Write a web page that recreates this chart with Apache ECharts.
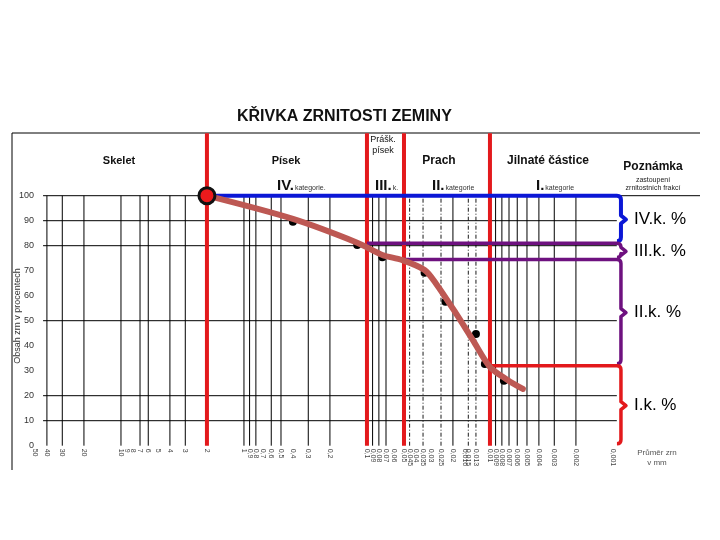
<!DOCTYPE html>
<html><head><meta charset="utf-8">
<script src="https://cdn.jsdelivr.net/npm/echarts@6/dist/echarts.min.js"></script>
<style>html,body{margin:0;padding:0;background:#fff}#c{width:720px;height:540px}</style>
</head><body><div id="c"></div>
<script>
// ---- data ----
const hGridValues = [100, 90, 80, 50, 20, 10];
const vGridSolid = [40, 30, 20, 10, 7, 6, 4, 3, 1, 0.9, 0.8, 0.6, 0.5, 0.3, 0.2, 0.09, 0.08, 0.07, 0.02, 0.009, 0.008, 0.007, 0.006, 0.005, 0.004, 0.003, 0.002];
const vGridDashed = [0.045, 0.035, 0.025, 0.015, 0.013];
const categoryBounds = [2, 0.1, 0.05, 0.01];
const xTickValues = [50, 40, 30, 20, 10, 9, 8, 7, 6, 5, 4, 3, 2, 1, 0.9, 0.8, 0.7, 0.6, 0.5, 0.4, 0.3, 0.2, 0.1, 0.09, 0.08, 0.07, 0.06, 0.05, 0.045, 0.04, 0.035, 0.03, 0.025, 0.02, 0.016, 0.015, 0.013, 0.01, 0.009, 0.008, 0.007, 0.006, 0.005, 0.004, 0.003, 0.002, 0.001];
const xTickLabels = ['50', '40', '30', '20', '10', '9', '8', '7', '6', '5', '4', '3', '2', '1', '0,9', '0,8', '0,7', '0,6', '0,5', '0,4', '0,3', '0,2', '0,1', '0,09', '0,08', '0,07', '0,06', '0,05', '0,045', '0,04', '0,035', '0,03', '0,025', '0,02', '0,016', '0,015', '0,013', '0,01', '0,009', '0,008', '0,007', '0,006', '0,005', '0,004', '0,003', '0,002', '0,001'];
const curveX = [2, 0.4, 0.12, 0.075, 0.052, 0.034, 0.0276, 0.019, 0.0138, 0.01, 0.0072, 0.0054];
const curveY = [100, 90.7, 81.2, 76.3, 74.3, 70.3, 65, 53.1, 42.3, 31.5, 26.3, 22.7];
const sampleX = [0.4, 0.12, 0.075, 0.034, 0.023, 0.013, 0.011, 0.0077];
const sampleY = [89.6, 80.3, 75.4, 69.2, 57.6, 44.7, 32.7, 26];
const fractionLabels = ['IV.k. %', 'III.k. %', 'II.k. %', 'I.k. %'];
const fractionStart = [2, 0.1, 0.05, 0.01];
const fractionTop = [100, 81, 74.5, 32];
const fractionBottom = [81, 74.5, 32, 0];

// ---- styles ----
const FONT = 'Liberation Sans, Arial, sans-serif';
const RED = '#e3191c', BLUE = '#0b17d6', PURPLE = '#6e117f';
const fractionColors = [BLUE, PURPLE, PURPLE, RED];
const GRID_FROM = 43, GRID_TO = 0.00093, LAST_TICK = 0.001;

const chart = echarts.init(document.getElementById('c'), null, {renderer: 'canvas'});

function vline(color, width, dash, yTop) {
  return function (params, api) {
    const v = api.value(0);
    const a = api.coord([v, 0]);
    const b = api.coord([v, yTop]);
    return {type: 'line', shape: {x1: a[0], y1: a[1], x2: b[0], y2: b[1]},
      style: {stroke: color, lineWidth: width, lineDash: dash}};
  };
}

const option = {
  animation: false,
  backgroundColor: '#fff',
  title: {
    text: 'KŘIVKA ZRNITOSTI ZEMINY', left: 237, top: 109, padding: 0,
    textStyle: {fontSize: 16, fontWeight: 'bold', color: '#111', fontFamily: FONT}
  },
  grid: {left: 35, right: 20, top: 133.2, bottom: 94.3},
  xAxis: {
    type: 'log', logBase: 10, min: 0.000196, max: 50, inverse: true,
    axisLine: {show: false}, axisTick: {show: false}, axisLabel: {show: false}, splitLine: {show: false}
  },
  yAxis: {
    type: 'value', min: 0, max: 125, interval: 10,
    axisLine: {show: false}, axisTick: {show: false}, splitLine: {show: false},
    axisLabel: {fontSize: 9, color: '#333', margin: 1, fontFamily: FONT,
      formatter: v => (v <= 100 ? String(v) : '')}
  },
  graphic: [
    {type: 'line', shape: {x1: 12, y1: 133, x2: 700, y2: 133}, style: {stroke: '#000', lineWidth: 1}},
    {type: 'line', shape: {x1: 12, y1: 133, x2: 12, y2: 470}, style: {stroke: '#000', lineWidth: 1}},
    {type: 'text', x: 18, y: 316, rotation: Math.PI / 2,
      style: {text: 'Obsah zrn v procentech', fontSize: 9, fill: '#333', align: 'center', verticalAlign: 'middle', fontFamily: FONT}},
    {type: 'text', x: 119, y: 161, style: {text: 'Skelet', fontSize: 11, fontWeight: 'bold', fill: '#111', align: 'center', verticalAlign: 'middle', fontFamily: FONT}},
    {type: 'text', x: 286, y: 161, style: {text: 'Písek', fontSize: 11, fontWeight: 'bold', fill: '#111', align: 'center', verticalAlign: 'middle', fontFamily: FONT}},
    {type: 'text', x: 383, y: 140, style: {text: 'Prášk.', fontSize: 9, fill: '#111', align: 'center', verticalAlign: 'middle', fontFamily: FONT}},
    {type: 'text', x: 383, y: 151, style: {text: 'písek', fontSize: 9, fill: '#111', align: 'center', verticalAlign: 'middle', fontFamily: FONT}},
    {type: 'text', x: 439, y: 161, style: {text: 'Prach', fontSize: 12, fontWeight: 'bold', fill: '#111', align: 'center', verticalAlign: 'middle', fontFamily: FONT}},
    {type: 'text', x: 548, y: 161, style: {text: 'Jilnaté částice', fontSize: 12, fontWeight: 'bold', fill: '#111', align: 'center', verticalAlign: 'middle', fontFamily: FONT}},
    {type: 'text', x: 653, y: 167, style: {text: 'Poznámka', fontSize: 12, fontWeight: 'bold', fill: '#111', align: 'center', verticalAlign: 'middle', fontFamily: FONT}},
    {type: 'text', x: 653, y: 180, style: {text: 'zastoupení', fontSize: 7, fill: '#222', align: 'center', verticalAlign: 'middle', fontFamily: FONT}},
    {type: 'text', x: 653, y: 188.5, style: {text: 'zrnitostních frakcí', fontSize: 7, fill: '#222', align: 'center', verticalAlign: 'middle', fontFamily: FONT}},
    {type: 'text', x: 277, y: 186, style: {text: '{a|IV.}{b|kategorie.}', align: 'left', verticalAlign: 'middle',
      rich: {a: {fontSize: 15, fontWeight: 'bold', fill: '#111', fontFamily: FONT}, b: {fontSize: 7, fill: '#333', fontFamily: FONT, verticalAlign: 'bottom', padding: [0, 0, 2, 1]}}}},
    {type: 'text', x: 375, y: 186, style: {text: '{a|III.}{b|k.}', align: 'left', verticalAlign: 'middle',
      rich: {a: {fontSize: 15, fontWeight: 'bold', fill: '#111', fontFamily: FONT}, b: {fontSize: 7, fill: '#333', fontFamily: FONT, verticalAlign: 'bottom', padding: [0, 0, 2, 1]}}}},
    {type: 'text', x: 432, y: 186, style: {text: '{a|II.}{b|kategorie}', align: 'left', verticalAlign: 'middle',
      rich: {a: {fontSize: 15, fontWeight: 'bold', fill: '#111', fontFamily: FONT}, b: {fontSize: 7, fill: '#333', fontFamily: FONT, verticalAlign: 'bottom', padding: [0, 0, 2, 1]}}}},
    {type: 'text', x: 536, y: 186, style: {text: '{a|I.}{b|kategorie}', align: 'left', verticalAlign: 'middle',
      rich: {a: {fontSize: 15, fontWeight: 'bold', fill: '#111', fontFamily: FONT}, b: {fontSize: 7, fill: '#333', fontFamily: FONT, verticalAlign: 'bottom', padding: [0, 0, 2, 1]}}}},
    {type: 'text', x: 657, y: 453, style: {text: 'Průměr zrn', fontSize: 8, fill: '#555', align: 'center', verticalAlign: 'middle', fontFamily: FONT}},
    {type: 'text', x: 657, y: 463, style: {text: 'v mm', fontSize: 8, fill: '#555', align: 'center', verticalAlign: 'middle', fontFamily: FONT}}
  ],
  series: [
    { // horizontal grid lines
      type: 'custom', z: 1, silent: true,
      data: hGridValues.map(v => [1, v]),
      renderItem(params, api) {
        const y = api.value(1);
        const a = api.coord([GRID_FROM, y]);
        const b = y === 100 ? [params.coordSys.x + params.coordSys.width, a[1]] : api.coord([GRID_TO, y]);
        return {type: 'line', shape: {x1: a[0], y1: a[1], x2: b[0], y2: b[1]}, style: {stroke: '#000', lineWidth: 1}};
      }
    },
    {type: 'custom', z: 1, silent: true, data: vGridSolid.map(v => [v, 0]), renderItem: vline('#000', 1, null, 100)},
    {type: 'custom', z: 1, silent: true, data: vGridDashed.map(v => [v, 0]), renderItem: vline('#000', 0.9, [4, 2, 1, 2], 100)},
    {type: 'custom', z: 3, silent: true, data: categoryBounds.map(v => [v, 0]), renderItem: vline(RED, 4, null, 125)},
    { // x tick labels
      type: 'custom', z: 2, silent: true, data: xTickValues.map(v => [v, 0]),
      renderItem(params, api) {
        const p = api.coord([api.value(0), 0]);
        return {type: 'text', x: p[0], y: p[1] + 3, rotation: -Math.PI / 2,
          style: {text: xTickLabels[params.dataIndex], fontSize: 7, fill: '#444', align: 'left', verticalAlign: 'middle', fontFamily: FONT}};
      }
    },
    { // fraction lines + brackets + labels
      type: 'custom', z: 4, silent: true,
      data: fractionStart.map((s, i) => [s, fractionTop[i], fractionBottom[i]]),
      renderItem(params, api) {
        const i = params.dataIndex;
        const xs = api.coord([api.value(0), 0])[0];
        const yT = api.coord([1, api.value(1)])[1];
        const yB = api.coord([1, api.value(2)])[1] - 2;
        const xb = api.coord([LAST_TICK, 0])[0] + 8;
        const r = 4, yM = (yT + yB + 2) / 2, t = 4, tip = 5;
        const d = 'M' + xs + ' ' + yT + ' L' + (xb - r) + ' ' + yT + ' Q' + xb + ' ' + yT + ' ' + xb + ' ' + (yT + r) +
          ' L' + xb + ' ' + (yM - t) + ' L' + (xb + tip) + ' ' + yM + ' L' + xb + ' ' + (yM + t) +
          ' L' + xb + ' ' + (yB - r) + ' Q' + xb + ' ' + yB + ' ' + (xb - r) + ' ' + yB;
        const c = fractionColors[i];
        return {type: 'group', children: [
          {type: 'path', shape: {pathData: d}, style: {stroke: c, fill: null, lineWidth: i === 0 ? 4 : 3.5, lineJoin: 'round'}},
          {type: 'text', x: xb + 13, y: yM, style: {text: fractionLabels[i], fontSize: 17, fill: '#000', align: 'left', verticalAlign: 'middle', fontFamily: FONT}}
        ]};
      }
    },
    { // sample points
      type: 'scatter', z: 5, silent: true, symbolSize: 8,
      itemStyle: {color: '#000', opacity: 1},
      data: sampleX.map((x, i) => [x, sampleY[i]])
    },
    { // grading curve
      type: 'line', z: 6, silent: true, smooth: 0.3, showSymbol: false,
      lineStyle: {color: '#bd5853', width: 6, cap: 'round', join: 'round'},
      data: curveX.map((x, i) => [x, curveY[i]])
    },
    { // start point
      type: 'scatter', z: 7, silent: true, symbolSize: 16,
      itemStyle: {color: '#ec1a1c', borderColor: '#111', borderWidth: 3, opacity: 1},
      data: [[curveX[0], curveY[0]]]
    }
  ]
};
chart.setOption(option);
</script>
</body></html>
